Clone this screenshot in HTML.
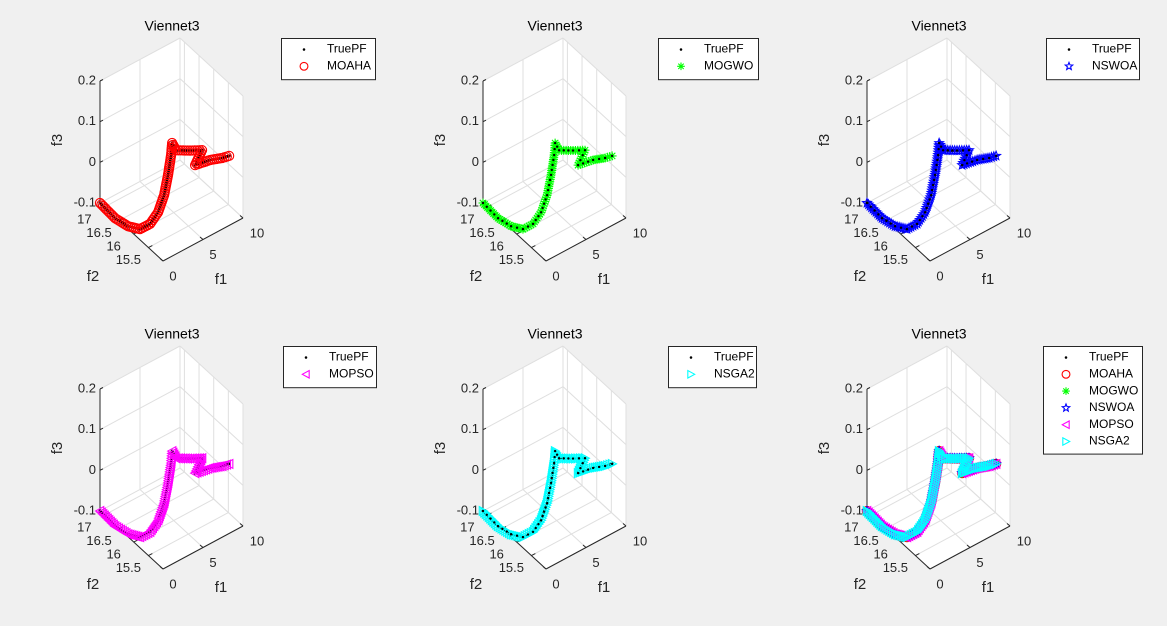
<!DOCTYPE html>
<html><head><meta charset="utf-8">
<style>
html,body{margin:0;padding:0;background:#f0f0f0;}
svg{display:block;font-family:"Liberation Sans",Arial,sans-serif;}
</style></head>
<body>
<svg id="fig" width="1167" height="626" viewBox="0 0 1167 626" xmlns="http://www.w3.org/2000/svg">
<rect width="1167" height="626" fill="#f0f0f0"/>
</svg>
<script>
// ---- data ----
const f1Ticks = [0, 5, 10];
const f2Ticks = [15.5, 16, 16.5, 17];
const f3Ticks = [-0.1, 0, 0.1, 0.2];
const f1Labels = ["0", "5", "10"];
const f2Labels = ["15.5", "16", "16.5", "17"];
const f3Labels = ["-0.1", "0", "0.1", "0.2"];
const pfF1 = [0, 0.2, 0.4, 0.6, 0.8, 1.0, 1.2, 1.4, 1.6, 1.8, 2.3, 4.0, 5.5, 5.0, 6.0, 7.5, 8.3];
const pfF2 = [17.15, 16.69, 16.30, 15.95, 15.66, 15.44, 15.29, 15.21, 15.16, 15.18, 15.18, 15.17, 15.17, 15.27, 15.03, 15.03, 15.01];
const pfF3 = [-0.1, -0.109, -0.105, -0.091, -0.061, -0.02, 0.030, 0.083, 0.133, 0.159, 0.136, 0.118, 0.103, 0.065, 0.083, 0.072, 0.07];
const algNames = ["MOAHA", "MOGWO", "NSWOA", "MOPSO", "NSGA2"];
const algColors = ["#ff0000", "#00ff00", "#0000ff", "#ff00ff", "#00ffff"];
const algMarkers = ["circle", "asterisk", "star", "ltri", "rtri"];
// ---- geometry ----
const NS = "http://www.w3.org/2000/svg";
const svg = document.getElementById('fig');
function el(tag, attrs, parent) {
  const e = document.createElementNS(NS, tag);
  for (const k in attrs) e.setAttribute(k, attrs[k]);
  (parent || svg).appendChild(e);
  return e;
}
function P(f1, f2, f3, ox, oy) {
  const u = f1 / 10, v = (f2 - 15) / 2.15, w = (f3 + 0.1) / 0.3;
  return [ox + 163 + 80 * u - 63 * v, oy + 261 - 43 * u - 58 * v - 122 * w];
}
function marker(g, type, x, y, color, s) {
  s = s || 1;
  let m;
  if (type === "circle") m = el('circle', {cx: x, cy: y, r: 4.6 * s, fill: 'none', stroke: color, 'stroke-width': 1.1}, g);
  else if (type === "asterisk") { const a = 4.5 * s, b = 3.2 * s; m = el('path', {d: `M${x-a} ${y}H${x+a}M${x} ${y-a}V${y+a}M${x-b} ${y-b}L${x+b} ${y+b}M${x-b} ${y+b}L${x+b} ${y-b}`, stroke: color, 'stroke-width': 1.1, fill: 'none'}, g); }
  else if (type === "star") {
    let d = "";
    for (let i = 0; i < 10; i++) { const r = (i % 2 ? 2.0 : 4.6) * s; const a = -Math.PI / 2 + i * Math.PI / 5; d += (i ? "L" : "M") + (x + r * Math.cos(a)).toFixed(1) + " " + (y + r * Math.sin(a)).toFixed(1); }
    m = el('path', {d: d + "Z", stroke: color, fill: 'none', 'stroke-width': 1.1}, g);
  } else if (type === "ltri") { const a = 4.4 * s; m = el('path', {d: `M${x-a} ${y}L${x+a*0.85} ${y-a}L${x+a*0.85} ${y+a}Z`, stroke: color, fill: 'none', 'stroke-width': 1.1}, g); }
  else if (type === "rtri") { const a = 4.4 * s; m = el('path', {d: `M${x+a} ${y}L${x-a*0.85} ${y-a}L${x-a*0.85} ${y+a}Z`, stroke: color, fill: 'none', 'stroke-width': 1.1}, g); }
  else if (type === "dot") m = el('circle', {cx: x, cy: y, r: 1.5 * s, fill: color}, g);
  
  
  return m;
}
function samplePts(f1s, f2s, f3s, ox, oy, step) {
  const pts = f1s.map((a, i) => P(a, f2s[i], f3s[i], ox, oy));
  const out = [];
  for (let i = 0; i < pts.length - 1; i++) {
    const [x0, y0] = pts[i], [x1, y1] = pts[i + 1];
    const n = Math.max(1, Math.round(Math.hypot(x1 - x0, y1 - y0) / step));
    for (let k = 0; k < n; k++) out.push([x0 + (x1 - x0) * k / n, y0 + (y1 - y0) * k / n]);
  }
  out.push(pts[pts.length - 1]);
  return out;
}
function drawSeries(g, name, type, color, ox, oy, step) {
  const sg = el('g', {}, g);
  
  
  samplePts(pfF1, pfF2, pfF3, ox, oy, step).forEach(p => marker(sg, type, p[0], p[1], color));
}
function txt(g, x, y, s, size, anchor, extra) {
  const t = el('text', Object.assign({x: x, y: y, 'font-size': size, fill: '#262626', 'text-anchor': anchor || 'middle', 'dominant-baseline': 'middle'}, extra || {}), g);
  t.textContent = s;
  return t;
}
function subplot(idx, ox, oy, algs, legLeft, legTop, legW) {
  const g = el('g', {});
  
  
  const c = (a, b, w) => P(a, b, w, ox, oy);
  const pts = [c(0, 17.15, -0.1), c(0, 15, -0.1), c(10, 15, -0.1), c(10, 15, 0.2), c(10, 17.15, 0.2), c(0, 17.15, 0.2)];
  const bg = el('polygon', {points: pts.map(p => p.join(',')).join(' '), fill: '#fff'}, g);
  
  
  const grid = el('g', {stroke: '#dfdfdf', 'stroke-width': 1, fill: 'none'}, g);
  
  
  const line = (p, q, gg) => el('line', {x1: p[0], y1: p[1], x2: q[0], y2: q[1]}, gg);
  f3Ticks.forEach(z => { line(c(10, 15, z), c(10, 17.15, z), grid); line(c(0, 17.15, z), c(10, 17.15, z), grid); });
  f2Ticks.forEach(b => { line(c(10, b, -0.1), c(10, b, 0.2), grid); line(c(0, b, -0.1), c(10, b, -0.1), grid); });
  f1Ticks.forEach(a => { line(c(a, 17.15, -0.1), c(a, 17.15, 0.2), grid); line(c(a, 15, -0.1), c(a, 17.15, -0.1), grid); });
  line(c(10, 17.15, -0.1), c(10, 17.15, 0.2), grid);
  line(c(10, 15, -0.1), c(10, 15, 0.2), grid);
  const ax = el('g', {stroke: '#262626', 'stroke-width': 1}, g);
  
  
  line(c(0, 17.15, -0.1), c(0, 17.15, 0.2), ax);
  line(c(0, 17.15, -0.1), c(0, 15, -0.1), ax);
  line(c(0, 15, -0.1), c(10, 15, -0.1), ax);
  f3Ticks.forEach((z, i) => { const p = c(0, 17.15, z); line(p, [p[0] + 3, p[1] - 1.5], ax); txt(g, p[0] - 4, p[1], f3Labels[i], 13, 'end'); });
  f2Ticks.forEach((b, i) => { const p = c(0, b, -0.1); line(p, [p[0] + 4, p[1] - 2], ax); txt(g, p[0] - 20, p[1] + 13, f2Labels[i], 13, 'middle'); });
  f1Ticks.forEach((a, i) => { const p = c(a, 15, -0.1); line(p, [p[0] - 3, p[1] - 2.5], ax); txt(g, p[0] + 10 + (i === 2 ? 4 : 0), p[1] + 16, f1Labels[i], 13, 'middle'); });
  const yl = txt(g, ox + 58, oy + 140, 'f3', 15, 'middle', {transform: `rotate(-90 ${ox + 58} ${oy + 140})`});
  
  const xl = txt(g, ox + 221, oy + 280, 'f1', 15);
  
  const zl = txt(g, ox + 93, oy + 277, 'f2', 15);
  
  const tt = txt(g, ox + 172, oy + 27, 'Viennet3', 14, 'middle', {fill: '#000'});
  
  const plotG = el('g', {}, g);
  
  
  drawSeries(plotG, 'TruePF', 'dot', '#000', ox, oy, 2);
  algs.forEach(a => drawSeries(plotG, algNames[a], algMarkers[a], algColors[a], ox, oy, 2.2));
  if (algs.length === 1 && algs[0] !== 0 && algs[0] !== 3) {
    const top = el('g', {}, plotG);
    
    
    samplePts(pfF1, pfF2, pfF3, ox, oy, 5).forEach(p => marker(top, 'dot', p[0], p[1], '#000', 0.8));
  }
  const lg = el('g', {}, g);
  
  
  const rows = 1 + algs.length;
  el('rect', {x: legLeft + 0.5, y: legTop + 0.5, width: legW, height: 8 + rows * 16.6, fill: '#fff', stroke: '#262626', 'stroke-width': 1}, lg);
  const entries = [['TruePF', 'dot', '#000']].concat(algs.map(a => [algNames[a], algMarkers[a], algColors[a]]));
  entries.forEach((e, i) => {
    const eg = el('g', {}, lg);
    
    
    const y = legTop + 11.5 + i * 16.8;
    marker(eg, e[1], legLeft + 23, y, e[2], 0.85);
    txt(eg, legLeft + 46, y, e[0], 12, 'start', {fill: '#000'});
  });
}
subplot(0, 0, 0, [0], 281, 38, 94);
subplot(1, 383, 0, [1], 658, 38, 100);
subplot(2, 767, 0, [2], 1046, 38, 93);
subplot(3, 0, 308, [3], 283, 346, 93);
subplot(4, 383, 308, [4], 668, 346, 88);
subplot(5, 767, 308, [0, 1, 2, 3, 4], 1043, 346, 99);
</script>
</body></html>
